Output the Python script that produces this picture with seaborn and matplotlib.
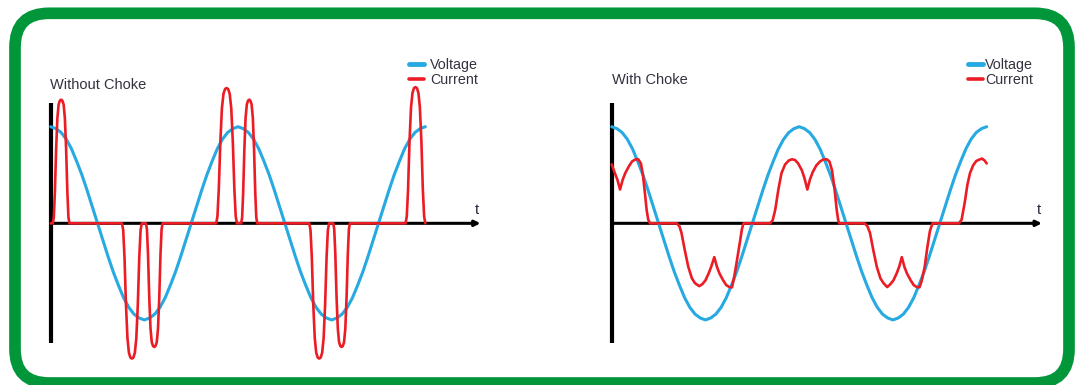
import numpy as np
import matplotlib
matplotlib.use("Agg")
import matplotlib.pyplot as plt
import seaborn as sns
from matplotlib.patches import FancyBboxPatch

# phase angle in degrees (two cycles) and supply voltage
phase = np.arange(0, 721, 10)
voltage = [1.00, 0.98, 0.94, 0.87, 0.77, 0.64, 0.50, 0.34, 0.17, 0.00,
           -0.17, -0.34, -0.50, -0.64, -0.77, -0.87, -0.94, -0.98, -1.00,
           -0.98, -0.94, -0.87, -0.77, -0.64, -0.50, -0.34, -0.17, 0.00,
           0.17, 0.34, 0.50, 0.64, 0.77, 0.87, 0.94, 0.98, 1.00,
           0.98, 0.94, 0.87, 0.77, 0.64, 0.50, 0.34, 0.17, 0.00,
           -0.17, -0.34, -0.50, -0.64, -0.77, -0.87, -0.94, -0.98, -1.00,
           -0.98, -0.94, -0.87, -0.77, -0.64, -0.50, -0.34, -0.17, 0.00,
           0.17, 0.34, 0.50, 0.64, 0.77, 0.87, 0.94, 0.98, 1.00]

# current without choke: narrow charging pulses near the voltage peaks
cur_wo_t = [0,
            4, 5.9, 8, 10.4, 12.8, 15.2, 17.6, 20, 22.4, 24.8, 27.2, 29.6, 32, 34.1, 36,
            137, 139.3, 141.8, 144.6, 147.5, 150.3, 153.2, 156, 158.8, 161.7, 164.5, 167.4, 170.2, 172.7, 175,
            183, 184.9, 187, 189.4, 191.8, 194.2, 196.6, 199, 201.4, 203.8, 206.2, 208.6, 211, 213.1, 215,
            318, 320.4, 323, 326, 329, 332, 335, 338, 341, 344, 347, 350, 353, 355.6, 358,
            366, 367.9, 369.9, 372.2, 374.5, 376.9, 379.2, 381.5, 383.8, 386.1, 388.5, 390.8, 393.1, 395.1, 397,
            497, 499.3, 501.8, 504.6, 507.5, 510.3, 513.2, 516, 518.8, 521.7, 524.5, 527.4, 530.2, 532.7, 535,
            543, 544.9, 547, 549.4, 551.8, 554.2, 556.6, 559, 561.4, 563.8, 566.2, 568.6, 571, 573.1, 575,
            682, 684.3, 686.8, 689.6, 692.5, 695.3, 698.2, 701, 703.8, 706.7, 709.5, 712.4, 715.2, 717.7, 720]
cur_wo_v = [0,
            0, 0.06, 0.32, 0.77, 1.09, 1.23, 1.27, 1.28, 1.27, 1.23, 1.09, 0.77, 0.32, 0.06, 0,
            0, -0.07, -0.35, -0.84, -1.19, -1.34, -1.39, -1.40, -1.39, -1.34, -1.19, -0.84, -0.35, -0.07, 0,
            0, -0.06, -0.32, -0.77, -1.09, -1.23, -1.27, -1.28, -1.27, -1.23, -1.09, -0.77, -0.32, -0.06, 0,
            0, 0.07, 0.35, 0.84, 1.19, 1.34, 1.39, 1.40, 1.39, 1.34, 1.19, 0.84, 0.35, 0.07, 0,
            0, 0.06, 0.32, 0.77, 1.09, 1.23, 1.27, 1.28, 1.27, 1.23, 1.09, 0.77, 0.32, 0.06, 0,
            0, -0.07, -0.35, -0.84, -1.19, -1.34, -1.39, -1.40, -1.39, -1.34, -1.19, -0.84, -0.35, -0.07, 0,
            0, -0.06, -0.32, -0.77, -1.09, -1.23, -1.27, -1.28, -1.27, -1.23, -1.09, -0.77, -0.32, -0.06, 0,
            0, 0.07, 0.35, 0.85, 1.20, 1.35, 1.40, 1.41, 1.40, 1.35, 1.20, 0.85, 0.35, 0.07, 0]

# current with choke: wide double-humped lobes
cur_w_t = [0, 6, 11, 16, 21, 26, 33, 39, 45, 51, 56, 60, 64, 67, 70, 73.5,
           125, 130, 134, 140, 147, 154, 160, 168, 174, 180, 186, 191, 197, 202, 207, 214, 220, 226, 231,
           235, 240, 246, 250, 253,
           304, 309, 314, 320, 326, 333, 340, 346, 352, 358, 365, 370, 375.6, 381, 386, 393, 400, 406, 413,
           418, 423, 428, 432, 435, 437,
           486, 491, 496, 502, 509, 516, 522, 529, 535, 541, 547, 552, 557, 562, 567, 574, 580, 586, 591,
           595, 601, 606, 611, 616,
           667, 672, 678, 683, 688, 694, 700, 706, 711, 716, 720]
cur_w_v = [0.61, 0.52, 0.45, 0.35, 0.45, 0.52, 0.59, 0.64, 0.66, 0.663, 0.62, 0.50, 0.30, 0.14, 0.04, 0,
           0, -0.03, -0.10, -0.27, -0.45, -0.57, -0.62, -0.65, -0.63, -0.59, -0.52, -0.45, -0.35, -0.45,
           -0.52, -0.59, -0.64, -0.66, -0.663,
           -0.56, -0.40, -0.20, -0.06, 0,
           0, 0.03, 0.14, 0.35, 0.52, 0.61, 0.65, 0.663, 0.655, 0.62, 0.55, 0.47, 0.35, 0.46, 0.53, 0.60,
           0.64, 0.66, 0.663,
           0.64, 0.55, 0.35, 0.14, 0.03, 0,
           0, -0.03, -0.10, -0.27, -0.45, -0.57, -0.62, -0.66, -0.63, -0.59, -0.52, -0.45, -0.35, -0.45,
           -0.52, -0.59, -0.64, -0.66, -0.663,
           -0.60, -0.45, -0.25, -0.08, 0,
           0, 0.04, 0.22, 0.40, 0.52, 0.60, 0.645, 0.66, 0.67, 0.65, 0.62]

titles = ["Without Choke", "With Choke"]
labels = ["Voltage", "Current"]

BLUE = "#27a9e1"
RED = "#ec1c24"
GREEN = "#02963a"
TXT = "#333340"

sns.set_style("white")
plt.rcParams["font.family"] = ["Liberation Sans", "DejaVu Sans"]

W, H = 1079, 385
fig = plt.figure(figsize=(W / 100, H / 100), dpi=100)

# green rounded frame, drawn in pixel units
bg = fig.add_axes([0, 0, 1, 1])
bg.set_xlim(0, W)
bg.set_ylim(0, H)
bg.axis("off")
bg.add_patch(FancyBboxPatch((15, 2), 1054, 369.7, boxstyle="round,pad=0,rounding_size=34",
                            fc="none", ec=GREEN, lw=8.4))

# per panel: left px, x-limits (degrees), current data, title spot, legend spot, text pad
panels = [
    (40, (-20.6, 863.5), cur_wo_t, cur_wo_v, (-1.3, 1.387), (409.3, 58.0), 0.47),
    (600, (-22.5, 860.8), cur_w_t, cur_w_v, (0, 1.442), (968.3, 58.0), 0.19),
]

for i, (left, xlim, ct, cv, tpos, lpos, tpad) in enumerate(panels):
    ax = fig.add_axes([left / W, 10 / H, 460 / W, 325 / H])
    ax.set_xlim(*xlim)
    ax.set_ylim(-1.570, 1.794)
    ax.axis("off")

    # axes drawn by hand: vertical bar and arrowed time axis
    ax.vlines(0, -1.24, 1.245, color="black", lw=3.0, zorder=1)
    ax.annotate("", xy=(826, 0), xytext=(0, 0),
                arrowprops=dict(arrowstyle="-|>", color="black", lw=2.2,
                                mutation_scale=8, shrinkA=0, shrinkB=0), zorder=1)
    ax.text(819.5, 0.096, "t", fontsize=10.5, color="#22223a", ha="center", va="baseline")

    sns.lineplot(x=phase, y=voltage, ax=ax, color=BLUE, lw=2.2, label=labels[0],
                 estimator=None, sort=False, zorder=2)
    sns.lineplot(x=ct, y=cv, ax=ax, color=RED, lw=1.9, label=labels[1],
                 estimator=None, sort=False, zorder=3)

    ax.text(tpos[0], tpos[1], titles[i], fontsize=10.5, color=TXT, va="baseline", ha="left")

    leg = ax.legend(loc="upper left", bbox_to_anchor=(lpos[0] / W, 1 - lpos[1] / H),
                    bbox_transform=fig.transFigure, frameon=False, fontsize=10.3,
                    borderpad=0, borderaxespad=0, handlelength=1.0, handletextpad=tpad,
                    labelspacing=0.06)
    for h, lw in zip(leg.legend_handles, [3.5, 2.6]):
        h.set_linewidth(lw)
    for t in leg.get_texts():
        t.set_color(TXT)

fig.savefig("out.png", dpi=100)
